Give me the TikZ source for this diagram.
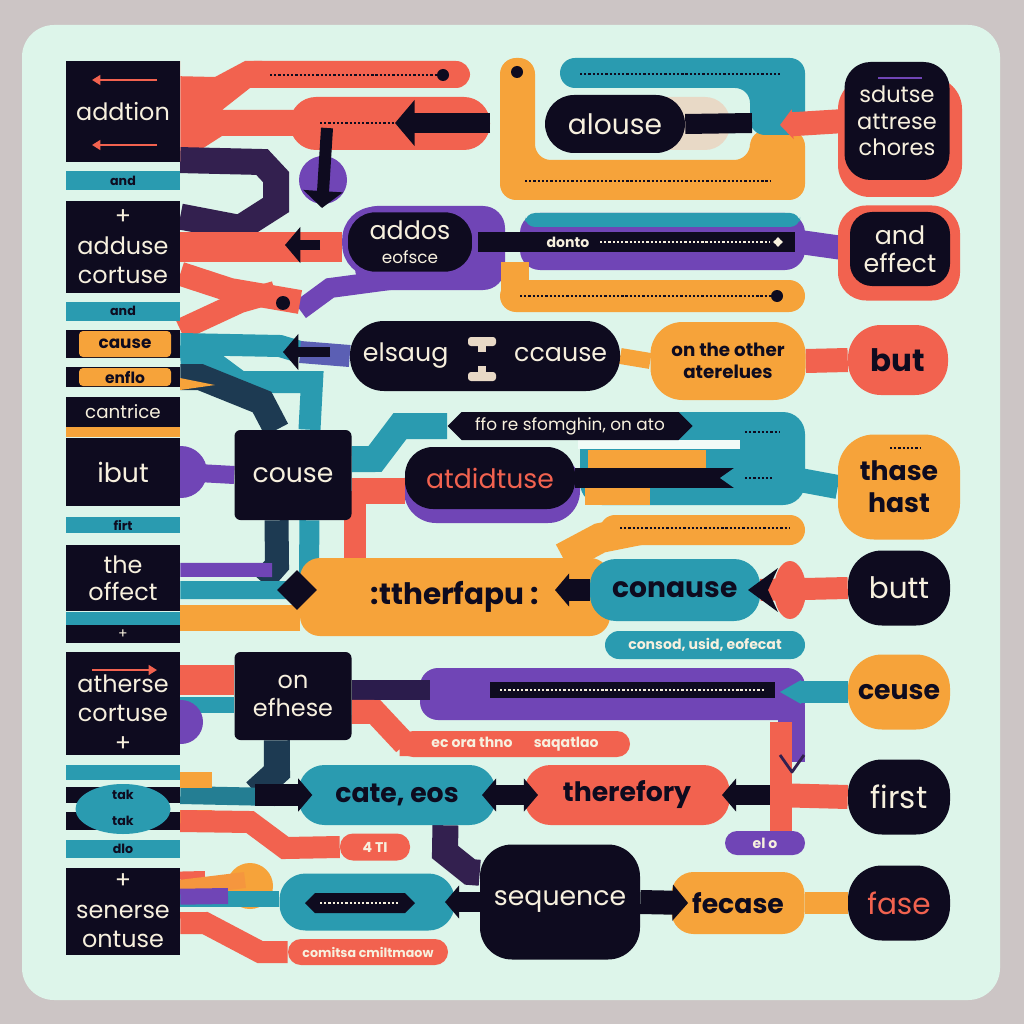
\documentclass[tikz,border=0pt]{standalone}
\usepackage{fontspec}
\setmainfont{Poppins}
\usetikzlibrary{arrows.meta}
\usetikzlibrary{shapes.geometric,shapes.symbols}
\definecolor{ink}{HTML}{0E0B1F}
\definecolor{coral}{HTML}{F2624F}
\definecolor{amber}{HTML}{F6A33A}
\definecolor{sea}{HTML}{2A9BB0}
\definecolor{plum}{HTML}{7045B6}
\definecolor{plumdk}{HTML}{33204F}
\definecolor{slate}{HTML}{1D3A52}
\definecolor{mint}{HTML}{DDF5EA}
\definecolor{frame}{HTML}{CCC5C5}
\definecolor{cream}{HTML}{F7F0DE}
\definecolor{beige}{HTML}{E8D9C6}
\def\pxu{0.025cm}
\pgfdeclarelayer{bg}
\pgfsetlayers{bg,main}
\tikzset{
  sz/.style 2 args={minimum width=#1*\pxu, minimum height=#2*\pxu, inner sep=0pt},
  rc/.style={rounded corners=#1*\pxu},
  bd/.style={line width=#1*\pxu},
  inkbox/.style={fill=ink, text=cream, align=center, font=\fontsize{17}{20}\selectfont},
  pill/.style={text=ink, align=center, font=\bfseries\fontsize{20}{20}\selectfont},
  tag/.style={text=ink, font=\bfseries\fontsize{9}{9}\selectfont},
  small tag/.style={text=cream, font=\bfseries\fontsize{10}{10}\selectfont},
  dots/.style={line width=1.6pt, dash pattern=on 1.6pt off 1.4pt},
  tip/.style={-{Triangle[length=#1pt,width=2.3*#1pt]}},
}
\begin{document}
\begin{tikzpicture}[x=0.025cm, y=-0.025cm, line join=round]
\useasboundingbox (0,0) rectangle (1024,1024);

% left column
\node[inkbox, sz={114}{101}] (addtion) at (123,112) {addtion};
\node[fill=sea, sz={114}{19}, tag] (and1) at (123,181) {and};
\node[inkbox, sz={114}{92}, font=\fontsize{17}{21}\selectfont] (adduse) at (123,247) {+\\adduse\\cortuse};
\node[fill=sea, sz={114}{19}, tag] (and2) at (123,311) {and};
\node[fill=ink, sz={114}{28}] (causebar) at (123,344) {};
\node[fill=amber, sz={92}{26}, rc=4, tag, font=\bfseries\fontsize{12}{12}\selectfont] (cause) at (125,344) {cause};
\node[fill=ink, sz={114}{20}] (enflobar) at (123,377) {};
\node[fill=amber, sz={92}{18}, rc=4, tag, font=\bfseries\fontsize{11}{11}\selectfont] (enflo) at (125,377) {enflo};
\node[inkbox, sz={114}{30}, font=\fontsize{13}{13}\selectfont] (cantrice) at (123,412) {cantrice};
\node[fill=amber, sz={114}{10}] (cantbar) at (123,432) {};
\node[inkbox, sz={114}{68}, font=\fontsize{19}{19}\selectfont] (ibut) at (123,472) {ibut};
\node[fill=sea, sz={114}{16}, tag] (firt) at (123,525) {firt};
\node[inkbox, sz={114}{66}, font=\fontsize{17}{19}\selectfont] (offect) at (123,578) {the\\offect};
\node[fill=sea, sz={114}{13}] (offbar) at (123,618) {};
\node[inkbox, sz={114}{18}, font=\fontsize{10}{10}\selectfont] (offplus) at (123,634) {+};
\node[fill=ink, sz={114}{103}] (atherse) at (123,703) {};
\node[text=cream, align=center, font=\fontsize{17}{21}\selectfont] (athersetxt) at (123,713) {atherse\\cortuse\\+};
\node[fill=sea, sz={114}{15}] (takbar) at (123,772) {};
\node[fill=ink, sz={114}{16}] (tak1) at (123,795) {};
\node[fill=ink, sz={114}{18}] (tak2) at (123,821) {};
\node[ellipse, fill=sea, sz={95}{50}] (takoval) at (123,809) {};
\node[tag] (tak1txt) at (123,795) {tak};
\node[tag] (tak2txt) at (123,821) {tak};
\node[fill=sea, sz={114}{18}, tag] (dlo) at (123,849) {dlo};
\node[inkbox, sz={114}{87}, font=\fontsize{17}{21}\selectfont] (senerse) at (123,911) {+\\senerse\\ontuse};

% middle and right
\node[fill=ink, text=cream, sz={140}{58}, rc=29, font=\fontsize{20}{20}\selectfont] (alouse) at (615,124) {alouse};
\node[inkbox, sz={105}{118}, rc=26, font=\fontsize{16}{19}\selectfont] (sdutse) at (897,121) {sdutse\\attrese\\chores};
\node[fill=ink, text=cream, draw=plum, line width=4pt, sz={130}{65}, rc=30, align=center, font=\fontsize{18}{17}\selectfont] (addos) at (410,242) {addos\\{\fontsize{12}{12}\selectfont eofsce}};
\node[inkbox, sz={100}{74}, rc=22, font=\fontsize{18}{20}\selectfont] (andeff) at (900,249) {and\\effect};
\node[fill=ink, text=cream, sz={270}{70}, rc=34, font=\fontsize{18}{18}\selectfont] (elsaug) at (485,356) {elsaug\hspace{2.6em}ccause};
\node[fill=amber, pill, sz={155}{78}, rc=32, font=\bfseries\fontsize{13}{16}\selectfont] (other) at (728,361) {on the other\\aterelues};
\node[fill=coral, pill, sz={100}{70}, rc=33, font=\bfseries\fontsize{22}{22}\selectfont] (but) at (898,360) {but};
\node[fill=ink, text=cream, sz={117}{90}, rc=6, font=\fontsize{19}{19}\selectfont] (couse) at (293,475) {couse};
\node[signal, signal to=west and east, fill=ink, text=cream, sz={245}{28}, font=\fontsize{12}{12}\selectfont] (ffo) at (570,426) {ffo re sfomghin, on ato};
\node[fill=ink, text=coral, sz={170}{62}, rc=28, font=\fontsize{19}{19}\selectfont] (atdid) at (490,478) {atdidtuse};
\node[fill=amber, pill, sz={122}{105}, rc=36, font=\bfseries\fontsize{19}{23}\selectfont] (thase) at (899,487) {thase\\hast};
\node[fill=amber, pill, sz={310}{78}, rc=20, font=\bfseries\fontsize{21}{21}\selectfont] (ther) at (455,597) {:ttherfapu :};
\node[fill=sea, pill, sz={170}{62}, rc=26] (conause) at (675,590) {conause};
\node[inkbox, sz={102}{75}, rc=34, font=\fontsize{21}{21}\selectfont] (butt) at (899,588) {butt};
\node[fill=sea, sz={200}{28}, rc=14, small tag] (consod) at (705,645) {consod, usid, eofecat};
\node[inkbox, sz={117}{88}, rc=6, font=\fontsize{17}{20}\selectfont] (efhese) at (293,696) {on\\efhese};
\node[fill=amber, pill, sz={102}{75}, rc=34, font=\bfseries\fontsize{19}{19}\selectfont] (ceuse) at (899,692) {ceuse};
\node[fill=coral, sz={230}{26}, rc=13, small tag] (ecora) at (515,744) {ec ora thno\hspace{1.5em}saqatlao};
\node[fill=sea, pill, sz={197}{60}, rc=26, font=\bfseries\fontsize{19}{19}\selectfont] (cate) at (397,795) {cate, eos};
\node[fill=coral, pill, sz={205}{60}, rc=26, font=\bfseries\fontsize{19}{19}\selectfont] (therefory) at (627,795) {therefory};
\node[inkbox, sz={102}{75}, rc=34, font=\fontsize{22}{22}\selectfont] (first) at (899,797) {first};
\node[fill=coral, sz={70}{27}, rc=13, small tag] (fourti) at (375,847) {4 TI};
\node[fill=plum, sz={80}{24}, rc=12, small tag] (elo) at (765,843) {el o};
\node[fill=sea, sz={175}{57}, rc=26] (seqband) at (367,902) {};
\node[inkbox, sz={160}{115}, rc=32, font=\fontsize{19}{19}\selectfont] (seq) at (560,902) {sequence};
\node[fill=amber, pill, sz={133}{62}, rc=22, font=\bfseries\fontsize{19}{19}\selectfont] (fecase) at (738,903) {fecase};
\node[fill=ink, text=coral, sz={102}{75}, rc=34, font=\fontsize{21}{21}\selectfont] (fase) at (899,903) {fase};
\node[fill=coral, sz={160}{26}, rc=13, small tag, font=\bfseries\fontsize{9}{9}\selectfont] (comitsa) at (368,952) {comitsa cmiltmaow};

\begin{pgfonlayer}{bg}
\fill[frame] (0,0) rectangle (1024,1024);
\fill[mint, rc=32] (22,25) rectangle (1000,1000);

% top bands
\fill[amber, rc=16] (500,200) -- (500,58) -- (535,58) -- (535,160) -- (750,160) -- (750,130) -- (805,130) -- (805,200) -- cycle;
\fill[sea, rc=15] (560,58) -- (805,58) -- (805,135) -- (750,135) -- (750,88) -- (560,88) -- cycle;
\draw[ink, dots] (580,74) -- (780,74);
\draw[ink, dots] (525,181) -- (770,181);
\fill[ink] (517,72) circle[radius=6];
\fill[beige, rc=25] (640,97) rectangle (730,150);
\draw[ink, bd=20] (alouse.east) -- (752,123);
\node[fill=coral, sz={124}{120}, rc=32] (sdshadow) at (900,137) {};
\draw[coral, bd=24, tip=9] (sdutse.west) -- (780,125);
\fill[coral, rc=14] (240,61) rectangle (470,88);
\draw[ink, dots] (270,75) -- (440,75);
\fill[ink] (443,75) circle[radius=6];
\fill[coral, rc=26] (290,97) rectangle (490,150);
\draw[ink, dots] (320,123) -- (395,123);
\fill[coral] (addtion.north east) -- ++(0,15) -- (215,77) -- (245,61) -- (262,61) -- (262,88) -- (250,88) -- (222,110) -- (300,110) -- (300,136) -- (222,136) -- (addtion.south east) -- cycle;
\draw[plumdk, bd=26] (addtion.-40) -- (262,162) -- (276,177) -- (276,205) -- (240,228) -- (adduse.28);
\node[circle, fill=plum, sz={48}{48}] (pdot) at (323,180) {};

% second row
\draw[coral, bd=30] (adduse.east) -- (adduse.east -| addos.west);
\fill[plum, rc=22] (355,206) rectangle (505,290);
\draw[plum, bd=20] (300,310) -- (330,288) -- (addos.south);
\fill[plum, rc=20] (520,213) rectangle (805,270);
\fill[sea, rc=10] (525,213) rectangle (800,227);
\draw[ink, bd=20] (addos.east) -- (795,242);
\draw[plum, bd=24] (800,242) -- (andeff.west);
\node[fill=coral, sz={122}{95}, rc=28] (aeshadow) at (899,253) {};
\draw[amber, bd=28] (515,262) -- (515,296);
\fill[amber, rc=16] (500,280) rectangle (805,312);
\draw[ink, dots] (520,296) -- (772,296);
\fill[ink] (777,296) circle[radius=6];
\draw[coral, bd=24] (adduse.-25) -- (230,290) -- (300,302);
\draw[coral, bd=22] (causebar.north east) -- (240,302) -- (275,292);
\fill[ink] (283,303) circle[radius=7];

% third row
\draw[amber, bd=16] (elsaug.east) -- (other.west);
\draw[coral, bd=24] (other.east) -- (but.west);
\draw[sea, bd=22] (causebar.east) -- (280,346) -- (300,352);
\draw[plum!70!sea, bd=22] (300,352) -- (elsaug.west);
\draw[sea, bd=22] (causebar.south east) -- (205,356) -- (240,382) -- (312,382) -- (couse.70);
\draw[slate, bd=26] (enflobar.east) -- (200,377) -- (262,402) -- (couse.110);
\fill[amber] (180,378) -- (215,385) -- (180,390) -- cycle;
\node[circle, fill=plum, sz={52}{52}] (pcirc1) at (181,472) {};
\draw[plum, bd=18] (ibut.east) -- (couse.west);
\draw[sea, bd=26] (couse.15) -- (375,459) -- (400,426) -- (ffo.west);
\fill[sea, rc=22] (580,412) rectangle (805,505);
\fill[white!60!mint] (578,440) rectangle (740,449);
\fill[amber] (588,450) rectangle (706,470);
\fill[amber] (585,470) rectangle (650,505);
\node[fill=plum, sz={176}{70}, rc=32] (atshadow) at (492,488) {};
\draw[ink, bd=20] (atdid.east) -- (735,478);
\fill[sea] (737,466) -- (720,478) -- (737,490) -- cycle;
\draw[ink, dots] (745,432) -- (780,432);
\draw[ink, dots] (745,478) -- (772,478);
\draw[sea, bd=24] (800,480) -- (thase.west);
\draw[coral, bd=26] (couse.-15) -- (couse.-15 -| atdid.west);
\draw[coral, bd=22] (355,491) -- (355,562);

% fourth row
\draw[slate, bd=24] (couse.-110) -- (277,565) -- (262,582);
\draw[sea, bd=20] (couse.-70) -- (309,570) -- (335,595);
\draw[plum, bd=14] (offect.8) -- (272,570);
\draw[sea, bd=18] (offect.-12) -- (300,590);
\draw[amber, bd=26] (offbar.east) -- (ther.west |- offbar.east);
\draw[amber, bd=30] (ther.20) -- (600,538) -- (640,530);
\fill[amber, rc=15] (600,515) rectangle (805,545);
\draw[ink, dots] (620,528) -- (790,528);
\node[ellipse, fill=coral, sz={32}{58}] (covl) at (790,590) {};
\draw[coral, bd=22] (butt.west) -- (conause.east);

% fifth row
\draw[coral, bd=30] (atherse.22) -- (atherse.22 -| efhese.west);
\draw[sea, bd=16] (atherse.-2) -- (atherse.-2 -| efhese.west);
\node[circle, fill=plum, sz={44}{44}] (pcirc2) at (181,722) {};
\fill[plum, rc=18] (420,668) rectangle (805,720);
\draw[plum, bd=27] (791,705) -- (791,762);
\draw[ink!70!plum, bd=20] (efhese.east |- 0,690) -- (430,690);
\draw[ink, bd=16] (490,690) -- (775,690);
\draw[cream, dots] (500,690) -- (765,690);
\draw[sea, bd=22] (ceuse.west) -- (800,692);
\fill[sea] (801,680) -- (780,692) -- (801,704) -- cycle;
\draw[coral, bd=24] (efhese.-15) -- (375,712) -- (405,744) -- (ecora.west);

% sixth row
\draw[slate, bd=26] (efhese.-110) -- (277,772) -- (255,792);
\draw[sea!80!ink, bd=18] (tak1.east) -- (275,797);
\fill[amber] (180,772) rectangle (212,788);
\fill[amber] (180,810) rectangle (212,828);
\draw[coral, bd=22] (tak2.east) -- (250,822) -- (285,848) -- (fourti.west);
\draw[ink, bd=20] (cate.east) -- (therefory.west);
\draw[ink, bd=20] (therefory.east) -- (772,795);
\draw[coral, bd=22] (781,722) -- (781,835);
\draw[coral, bd=24] (772,795) -- (first.west);
\draw[plumdk, bd=26] (cate.-32) -- (445,852) -- (470,872) -- (seq.160);

% bottom row
\draw[amber, bd=22] (fecase.east) -- (fase.west);
\draw[coral, bd=18] (senerse.28) -- (205,880);
\node[circle, fill=amber, sz={46}{46}] (odot) at (250,886) {};
\draw[amber!80!coral, bd=16] (senerse.22) -- (245,880);
\draw[sea, bd=16] (senerse.12) -- (senerse.12 -| seqband.west);
\draw[plum, bd=16] (senerse.14) -- (228,896);
\draw[coral, bd=22] (senerse.-12) -- (205,923) -- (260,952) -- (comitsa.west);
\end{pgfonlayer}

% overlays
\draw[coral, line width=1.8pt, -{Triangle[length=6pt,width=7pt]}] (157,80) -- (92,80);
\draw[coral, line width=1.8pt, -{Triangle[length=6pt,width=7pt]}] (157,145) -- (92,145);
\draw[coral, line width=1.8pt, -{Triangle[length=6pt,width=7pt]}] (92,670) -- (157,670);
\draw[ink, bd=20, tip=14] (490,123) -- (395,123);
\draw[ink, bd=12, tip=12] (327,128) -- (322,208);
\draw[ink, bd=10, tip=11] (320,245) -- (285,245);
\node[text=cream, font=\bfseries\fontsize{10}{10}\selectfont] (donto) at (568,242) {donto};
\draw[cream, dots] (600,242) -- (770,242);
\node[star, star points=4, fill=cream, sz={10}{10}] (dstar) at (778,242) {};
\draw[plum, line width=2pt] (878,78) -- (922,78);
\fill[beige, rc=3] (468,337) rectangle (496,346);
\fill[beige, rc=3] (468,372) rectangle (496,381);
\fill[beige] (478,346) rectangle (486,352);
\fill[beige] (478,366) rectangle (486,372);
\draw[ink, bd=10, tip=11] (330,352) -- (283,352);
\node[diamond, fill=ink, sz={40}{40}] (dmd) at (297,590) {};
\draw[ink, bd=22, tip=10] (conause.west) -- (555,590);
\fill[ink] (778,568) -- (748,590) -- (778,612) -- (768,590) -- cycle;
\draw[plumdk, line width=2pt] (780,755) -- (792,772) -- (804,755);
\draw[ink, dots] (890,448) -- (920,448);
\draw[ink, bd=22, tip=10] (255,795) -- ([xshift=10pt]cate.west);
\draw[ink, bd=14, tip=10] (510,795) -- (482,795);
\draw[ink, bd=14, tip=10] (505,795) -- (538,795);
\draw[ink, bd=14, tip=10] (750,795) -- (722,795);
\node[signal, signal to=west and east, fill=ink, sz={110}{20}] (seqlbl) at (360,903) {};
\draw[cream, dots] (320,903) -- (400,903);
\draw[ink, bd=20, tip=10] (seq.west) -- (445,902);
\draw[ink, bd=24, tip=11] (seq.east) -- ([xshift=12pt]fecase.west);
\end{tikzpicture}
\end{document}
